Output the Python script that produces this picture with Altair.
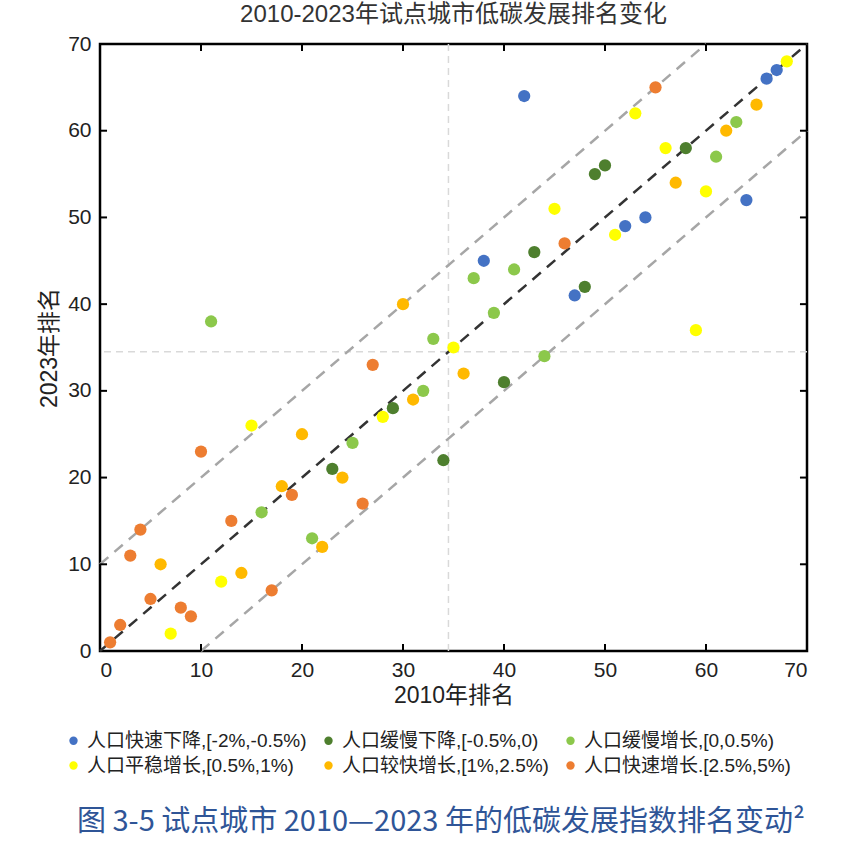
import altair as alt
import pandas as pd

# ---- data ----
categories = [
    "人口快速下降,[-2%,-0.5%)",
    "人口缓慢下降,[-0.5%,0)",
    "人口缓慢增长,[0,0.5%)",
    "人口平稳增长,[0.5%,1%)",
    "人口较快增长,[1%,2.5%)",
    "人口快速增长.[2.5%,5%)",
]
colors = ["#4472C4", "#4E7F2E", "#8CC84B", "#FFFF00", "#FFB900", "#ED7D31"]

x_fast_decline = [42, 66, 67, 38, 52, 54, 64, 47]
y_fast_decline = [64, 66, 67, 45, 49, 50, 52, 41]

x_slow_decline = [58, 49, 50, 43, 48, 40, 29, 23, 34]
y_slow_decline = [58, 55, 56, 46, 42, 31, 28, 21, 22]

x_slow_growth = [63, 61, 37, 41, 39, 44, 11, 33, 32, 25, 16, 21]
y_slow_growth = [61, 57, 43, 44, 39, 34, 38, 36, 30, 24, 16, 13]

x_steady_growth = [68, 53, 56, 45, 51, 60, 59, 35, 28, 15, 12, 7]
y_steady_growth = [68, 62, 58, 51, 48, 53, 37, 35, 27, 26, 8, 2]

x_faster_growth = [65, 62, 57, 36, 30, 20, 31, 24, 18, 6, 14, 22]
y_faster_growth = [63, 60, 54, 32, 40, 25, 29, 20, 19, 10, 9, 12]

x_rapid_growth = [55, 46, 27, 10, 4, 3, 19, 13, 26, 5, 8, 9, 17, 2, 1]
y_rapid_growth = [65, 47, 33, 23, 14, 11, 18, 15, 17, 6, 5, 4, 7, 3, 1]

tick_values = [10, 20, 30, 40, 50, 60]
axis_values = [0, 10, 20, 30, 40, 50, 60, 70]
mean_rank = 34.5

title_text = "2010-2023年试点城市低碳发展排名变化"
x_title = "2010年排名"
y_title = "2023年排名"
caption_text = "图 3-5 试点城市 2010—2023 年的低碳发展指数排名变动²"

# ---- build tables ----
series = [
    (x_fast_decline, y_fast_decline),
    (x_slow_decline, y_slow_decline),
    (x_slow_growth, y_slow_growth),
    (x_steady_growth, y_steady_growth),
    (x_faster_growth, y_faster_growth),
    (x_rapid_growth, y_rapid_growth),
]
rows = []
for cat, (xs_, ys_) in zip(categories, series):
    for a, b in zip(xs_, ys_):
        rows.append({"x2010": a, "y2023": b, "cat": cat})
pts = pd.DataFrame(rows)

# legend fills column by column: reorder so rows read as in the reference
legend_order = [categories[i] for i in (0, 3, 1, 4, 2, 5)]
legend_colors = [colors[i] for i in (0, 3, 1, 4, 2, 5)]

diag = pd.DataFrame({"x": [0, 70], "y": [0, 70]})
upper = pd.DataFrame({"x": [0, 60], "y": [10, 70]})
lower = pd.DataFrame({"x": [10, 70], "y": [0, 60]})
ticks = pd.DataFrame({"tv": tick_values})
mean_df = pd.DataFrame({"v": [mean_rank]})
cap_df = pd.DataFrame({"t": [caption_text]})

W, H = 707, 607
FONT = "'Liberation Sans', Arial, 'Noto Sans CJK SC', sans-serif"

xs = alt.Scale(domain=[0, 70], nice=False)
ys = alt.Scale(domain=[0, 70], nice=False)

x_axis = alt.Axis(values=axis_values, grid=False, ticks=False, domain=False,
                  labelFontSize=21, labelPadding=8, labelColor="#222",
                  labelFont=FONT, titleFont=FONT,
                  title=x_title, titleFontSize=23, titleFontWeight="normal",
                  titleColor="#222", titlePadding=4)
y_axis = alt.Axis(values=axis_values, grid=False, ticks=False, domain=False,
                  labelFontSize=21, labelPadding=9, labelColor="#222",
                  labelFont=FONT, titleFont=FONT,
                  title=y_title, titleFontSize=23, titleFontWeight="normal",
                  titleColor="#222", titlePadding=6)

def dline(df, color, width):
    return alt.Chart(df).mark_line(color=color, strokeWidth=width,
                                   strokeDash=[11, 8]).encode(
        x=alt.X("x:Q", scale=xs, axis=x_axis),
        y=alt.Y("y:Q", scale=ys, axis=y_axis))

upper_l = dline(upper, "#A6A6A6", 2.5)
lower_l = dline(lower, "#A6A6A6", 2.5)
diag_l = dline(diag, "#333333", 2.5)

vmean = alt.Chart(mean_df).mark_rule(color="#D9D9D9", strokeWidth=1.5,
                                      strokeDash=[7, 5]).encode(
    x=alt.X("v:Q", scale=xs, axis=x_axis))
hmean = alt.Chart(mean_df).mark_rule(color="#D9D9D9", strokeWidth=1.5,
                                      strokeDash=[7, 5]).encode(
    y=alt.Y("v:Q", scale=ys, axis=y_axis))

points = alt.Chart(pts).mark_circle(size=150, opacity=1).encode(
    x=alt.X("x2010:Q", scale=xs, axis=x_axis),
    y=alt.Y("y2023:Q", scale=ys, axis=y_axis),
    color=alt.Color("cat:N",
                    scale=alt.Scale(domain=legend_order, range=legend_colors),
                    sort=legend_order,
                    legend=alt.Legend(title=None, orient="none", legendX=-36,
                                      legendY=687, columns=3, columnPadding=12,
                                      rowPadding=5, labelFontSize=19,
                                      labelFont=FONT,
                                      labelColor="#222", labelOffset=4,
                                      symbolType="circle", symbolSize=70,
                                      symbolStrokeWidth=0, labelLimit=400,
                                      padding=0)),
)

# inward ticks on all four sides
tick_base = alt.Chart(ticks).transform_calculate(
    bot="0.4", top="69.6", lef="0.35", rig="69.65")
tk_v = dict(color="black", opacity=1, thickness=2, size=7, orient="vertical")
tk_h = dict(color="black", opacity=1, thickness=2, size=7, orient="horizontal")
t_bottom = tick_base.mark_tick(**tk_v).encode(
    x=alt.X("tv:Q", scale=xs, axis=x_axis), y=alt.Y("bot:Q", scale=ys, axis=y_axis))
t_top = tick_base.mark_tick(**tk_v).encode(
    x=alt.X("tv:Q", scale=xs, axis=x_axis), y=alt.Y("top:Q", scale=ys, axis=y_axis))
t_left = tick_base.mark_tick(**tk_h).encode(
    y=alt.Y("tv:Q", scale=ys, axis=y_axis), x=alt.X("lef:Q", scale=xs, axis=x_axis))
t_right = tick_base.mark_tick(**tk_h).encode(
    y=alt.Y("tv:Q", scale=ys, axis=y_axis), x=alt.X("rig:Q", scale=xs, axis=x_axis))

caption = alt.Chart(cap_df).mark_text(align="left", baseline="middle",
                                       fontSize=29, color="#2F5597",
                                       font="'Noto Sans CJK SC', sans-serif").encode(
    text="t:N", x=alt.value(-23), y=alt.value(778))

chart = alt.layer(
    vmean, hmean, upper_l, lower_l, diag_l,
    t_bottom, t_top, t_left, t_right, points, caption,
).properties(
    width=W, height=H,
    title=alt.TitleParams(title_text, fontSize=24, fontWeight="normal",
                          color="#333", offset=6, anchor="middle", font=FONT),
    autosize=alt.AutoSizeParams(type="none"),
    padding={"left": 100, "top": 44, "right": 45, "bottom": 202},
).configure(
    font=FONT, background="white"
).configure_view(
    stroke="black", strokeWidth=2.5
)

chart.save("out.html", embed_options={"renderer": "svg", "actions": False})
